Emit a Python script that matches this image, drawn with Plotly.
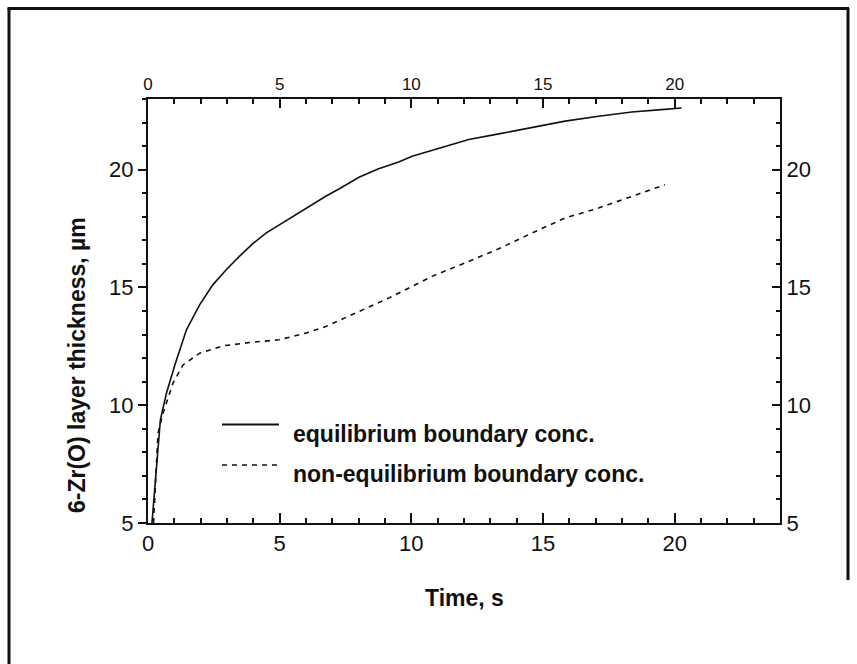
import plotly.graph_objects as go

# Equilibrium boundary concentration (solid)
t_eq = [0.15, 0.47, 0.70, 1.02, 1.46, 1.96, 2.46, 2.97, 3.47, 3.98, 4.48, 4.98, 5.49, 6.24,
        6.75, 7.25, 8.01, 8.76, 9.52, 10.03, 11.05, 12.18, 13.32, 14.58, 15.84, 17.11,
        18.37, 19.50, 20.26]
h_eq = [5.0, 9.38, 10.51, 11.71, 13.2, 14.26, 15.11, 15.75, 16.32, 16.86, 17.31, 17.66, 18.02,
        18.51, 18.87, 19.18, 19.68, 20.04, 20.33, 20.57, 20.92, 21.28, 21.52, 21.8, 22.06,
        22.27, 22.45, 22.55, 22.62]

# Non-equilibrium boundary concentration (dashed)
t_neq = [0.21, 0.38, 0.57, 0.95, 1.33, 1.96, 2.84, 3.85, 4.98, 5.99, 6.75, 7.88, 9.14, 10.4,
         10.78, 12.04, 13.32, 14.58, 15.84, 17.11, 18.37, 19.63]
h_neq = [5.0, 8.81, 9.66, 10.94, 11.71, 12.21, 12.52, 12.66, 12.78, 13.06, 13.34, 13.91, 14.55,
         15.25, 15.47, 16.04, 16.64, 17.31, 17.95, 18.37, 18.87, 19.36]

x_range = [0, 24]
y_range = [5, 23]
x_ticks = [0, 5, 10, 15, 20]
y_ticks = [5, 10, 15, 20]

legend_labels = ["equilibrium boundary conc.", "non-equilibrium boundary conc."]
x_title = "Time, s"
y_title = "6-Zr(O) layer thickness, µm"

FONT = "Arial, Liberation Sans, sans-serif"
BLACK = "#111111"

fig = go.Figure()
fig.add_trace(go.Scatter(x=t_eq, y=h_eq, mode="lines",
                         line=dict(color=BLACK, width=1.6), showlegend=False))
fig.add_trace(go.Scatter(x=t_neq, y=h_neq, mode="lines",
                         line=dict(color=BLACK, width=1.6, dash="5px,5px"), showlegend=False))
# invisible trace to anchor the mirrored axes
fig.add_trace(go.Scatter(x=x_range, y=y_range, xaxis="x2", yaxis="y2", mode="markers",
                         marker=dict(opacity=0), hoverinfo="skip", showlegend=False))

W, H = 857, 664
L, R, T, B = 148, 780, 99, 523
pw, ph = R - L, B - T


def px(x):
    return (x - L) / pw


def py(y):
    return (B - y) / ph


axis_common = dict(showgrid=False, zeroline=False, showline=True, linecolor=BLACK,
                   linewidth=2, tickcolor=BLACK, tickwidth=2)

fig.update_layout(
    width=W, height=H,
    margin=dict(l=L, r=W - R, t=T, b=H - B),
    paper_bgcolor="white", plot_bgcolor="white",
    font=dict(family=FONT, color=BLACK),
    xaxis=dict(range=x_range, tickvals=x_ticks, ticks="inside", ticklen=10,
               minor=dict(dtick=1, ticks="inside", ticklen=5, tickcolor=BLACK, tickwidth=2),
               tickfont=dict(size=22, family=FONT, color=BLACK), **axis_common),
    xaxis2=dict(range=x_range, tickvals=x_ticks, overlaying="x", side="top", anchor="y",
                ticks="inside", ticklen=9,
                minor=dict(dtick=1, ticks="inside", ticklen=5, tickcolor=BLACK, tickwidth=2),
                tickfont=dict(size=17, family=FONT, color=BLACK), **axis_common),
    yaxis=dict(range=y_range, tickvals=y_ticks, ticks="outside", ticklen=8,
               minor=dict(dtick=1, ticks="outside", ticklen=4, tickcolor=BLACK, tickwidth=2),
               tickfont=dict(size=22, family=FONT, color=BLACK), **axis_common),
    yaxis2=dict(range=y_range, tickvals=y_ticks, overlaying="y", side="right", anchor="x",
                ticks="inside", ticklen=8,
                minor=dict(dtick=1, ticks="inside", ticklen=4, tickcolor=BLACK, tickwidth=2),
                tickfont=dict(size=22, family=FONT, color=BLACK), **axis_common),
)

shapes = [
    # outer frame
    dict(type="line", xref="paper", yref="paper", x0=px(9), x1=px(9), y0=py(8), y1=py(664),
         line=dict(color=BLACK, width=3)),
    dict(type="line", xref="paper", yref="paper", x0=px(7.5), x1=px(849), y0=py(8.5), y1=py(8.5),
         line=dict(color=BLACK, width=3)),
    dict(type="line", xref="paper", yref="paper", x0=px(848), x1=px(848), y0=py(8), y1=py(580),
         line=dict(color=BLACK, width=3)),
    # legend samples
    dict(type="line", xref="paper", yref="paper", x0=px(222), x1=px(279), y0=py(424.5), y1=py(424.5),
         line=dict(color=BLACK, width=2)),
    dict(type="line", xref="paper", yref="paper", x0=px(222), x1=px(277), y0=py(465), y1=py(465),
         line=dict(color=BLACK, width=1.6, dash="5px,5px")),
]
fig.update_layout(shapes=shapes)

annotations = [
    dict(text=legend_labels[0], x=px(291), y=py(434), xref="paper", yref="paper",
         xanchor="left", yanchor="middle", showarrow=False,
         font=dict(size=23, family=FONT, color=BLACK, weight="bold")),
    dict(text=legend_labels[1], x=px(291), y=py(474), xref="paper", yref="paper",
         xanchor="left", yanchor="middle", showarrow=False,
         font=dict(size=23, family=FONT, color=BLACK, weight="bold")),
    dict(text=x_title, x=px(464), y=py(598), xref="paper", yref="paper",
         xanchor="center", yanchor="middle", showarrow=False,
         font=dict(size=23, family=FONT, color=BLACK, weight="bold")),
    dict(text=y_title, x=px(77), y=py(365), xref="paper", yref="paper", textangle=-90,
         xanchor="center", yanchor="middle", showarrow=False,
         font=dict(size=23, family=FONT, color=BLACK, weight="bold")),
]
fig.update_layout(annotations=annotations)

fig.write_html("out.html")
